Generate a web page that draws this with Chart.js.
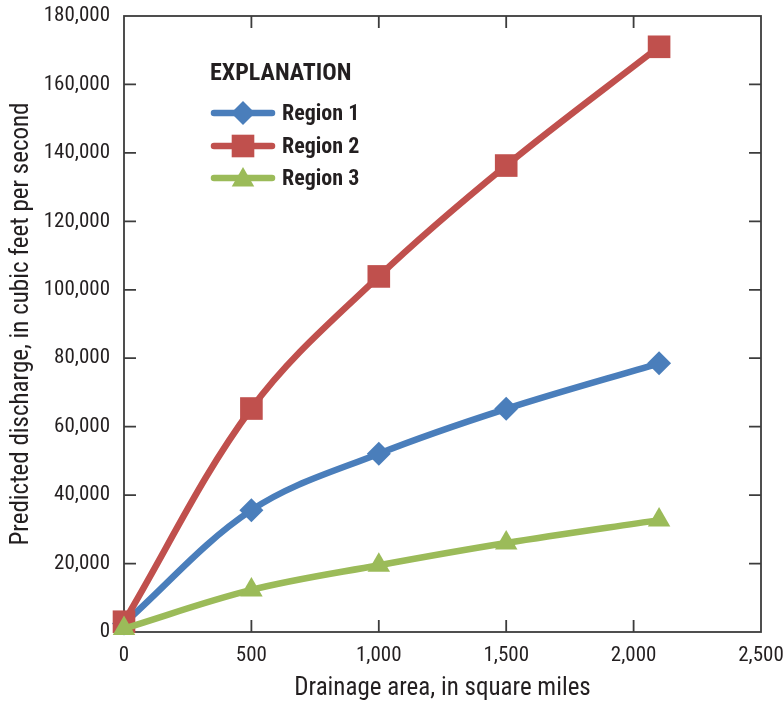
<!DOCTYPE html>
<html>
<head>
<meta charset="utf-8">
<script src="https://cdn.jsdelivr.net/npm/chart.js@4/dist/chart.umd.min.js"></script>
<style>
    html, body { margin: 0; padding: 0; background: #fff; }
    #wrap { width: 783px; height: 704px; }
</style>
</head>
<body>
<div id="wrap"><canvas id="chart" width="783" height="704"></canvas></div>
<script>
    const drainageArea = [0, 500, 1000, 1500, 2100];
    const region1 = [2500, 35600, 52100, 65200, 78500];
    const region2 = [3000, 65300, 103900, 136300, 171000];
    const region3 = [1000, 12300, 19500, 26000, 32700];
    const xTicks = [0, 500, 1000, 1500, 2000, 2500];
    const yTicks = [0, 20000, 40000, 60000, 80000, 100000, 120000, 140000, 160000, 180000];
    const seriesNames = ['Region 1', 'Region 2', 'Region 3'];

    const FONT = "'Liberation Sans Narrow', 'Roboto Condensed', 'DejaVu Sans Condensed', Arial, sans-serif";
    const AXIS_COLOR = '#3c3c3c';

    function toPoints(values) {
        return drainageArea.map((x, i) => ({ x: x, y: values[i] }));
    }

    function formatTick(value) {
        return Number(value).toLocaleString('en-US');
    }

    // frame plus inward tick marks on all four sides
    const framePlugin = {
        id: 'frame',
        beforeDatasetsDraw(chart) {
            const { ctx, chartArea, scales } = chart;
            const len = 12;
            ctx.save();
            ctx.strokeStyle = AXIS_COLOR;
            ctx.lineWidth = 1.8;
            ctx.strokeRect(chartArea.left, chartArea.top, chartArea.right - chartArea.left, chartArea.bottom - chartArea.top);
            ctx.beginPath();
            xTicks.slice(1, -1).forEach(v => {
                const px = scales.x.getPixelForValue(v);
                ctx.moveTo(px, chartArea.bottom);
                ctx.lineTo(px, chartArea.bottom - len);
                ctx.moveTo(px, chartArea.top);
                ctx.lineTo(px, chartArea.top + len);
            });
            yTicks.slice(1, -1).forEach(v => {
                const py = scales.y.getPixelForValue(v);
                ctx.moveTo(chartArea.left, py);
                ctx.lineTo(chartArea.left + len, py);
                ctx.moveTo(chartArea.right, py);
                ctx.lineTo(chartArea.right - len, py);
            });
            ctx.stroke();
            ctx.restore();
        }
    };

    // "EXPLANATION" box drawn inside the plot
    const explanationPlugin = {
        id: 'explanation',
        afterDraw(chart) {
            const { ctx } = chart;
            ctx.save();
            ctx.fillStyle = '#231f20';
            ctx.font = `bold 24px ${FONT}`;
            ctx.textBaseline = 'middle';
            ctx.textAlign = 'left';
            ctx.fillText('EXPLANATION', 210, 74);
            const rows = [113, 146, 178];
            chart.data.datasets.forEach((ds, i) => {
                const y = rows[i];
                ctx.strokeStyle = ds.borderColor;
                ctx.lineWidth = 6.5;
                ctx.lineCap = 'round';
                ctx.beginPath();
                ctx.moveTo(214, y);
                ctx.lineTo(272, y);
                ctx.stroke();
                ctx.fillStyle = ds.pointBackgroundColor;
                ctx.strokeStyle = ds.pointBorderColor;
                Chart.helpers.drawPoint(ctx, {
                    pointStyle: ds.pointStyle,
                    radius: ds.pointRadius,
                    borderWidth: 0,
                    rotation: 0
                }, 243, ds.pointStyle === 'triangle' ? y + 2 : y);
                ctx.fillStyle = '#231f20';
                ctx.font = `bold 22px ${FONT}`;
                ctx.fillText(seriesNames[i], 282, y + 1);
            });
            ctx.restore();
        }
    };

    function makeDataset(label, values, color, style, radius, order) {
        return {
            label: label,
            data: toPoints(values),
            order: order,
            borderColor: color,
            backgroundColor: color,
            pointBackgroundColor: color,
            pointBorderColor: color,
            pointBorderWidth: 0,
            pointStyle: style,
            pointRadius: radius,
            pointHoverRadius: radius,
            borderWidth: 6.5,
            tension: 0.35,
            fill: false,
            clip: false
        };
    }

    new Chart(document.getElementById('chart'), {
        type: 'line',
        data: {
            datasets: [
                makeDataset(seriesNames[0], region1, '#4a7ebb', 'rectRot', 12, 2),
                makeDataset(seriesNames[1], region2, '#c0504d', 'rect', 16, 1),
                makeDataset(seriesNames[2], region3, '#9bbb59', 'triangle', 13, 0)
            ]
        },
        options: {
            responsive: false,
            animation: false,
            layout: { padding: { top: 15, right: 22, left: 0, bottom: 0 } },
            plugins: {
                legend: { display: false },
                tooltip: { enabled: false }
            },
            scales: {
                x: {
                    type: 'linear',
                    min: 0,
                    max: 2500,
                    afterFit: scale => {
                        scale.height = 72;
                        scale.paddingLeft = 0;
                        scale.paddingRight = 0;
                    },
                    afterBuildTicks: scale => { scale.ticks = xTicks.map(v => ({ value: v })); },
                    grid: { display: false, drawTicks: false },
                    border: { display: false },
                    ticks: {
                        padding: 11,
                        color: '#231f20',
                        font: { family: FONT, size: 21 },
                        callback: formatTick,
                        maxRotation: 0
                    },
                    title: {
                        display: true,
                        text: 'Drainage area, in square miles',
                        color: '#231f20',
                        font: { family: FONT, size: 25 },
                        padding: { top: 0, bottom: 0 }
                    }
                },
                y: {
                    type: 'linear',
                    min: 0,
                    max: 180000,
                    afterFit: scale => {
                        scale.width = 124;
                        scale.paddingTop = 0;
                        scale.paddingBottom = 0;
                    },
                    afterBuildTicks: scale => { scale.ticks = yTicks.map(v => ({ value: v })); },
                    grid: { display: false, drawTicks: false },
                    border: { display: false },
                    ticks: {
                        padding: 14,
                        color: '#231f20',
                        font: { family: FONT, size: 21 },
                        callback: formatTick
                    },
                    title: {
                        display: true,
                        text: 'Predicted discharge, in cubic feet per second',
                        color: '#231f20',
                        font: { family: FONT, size: 25 },
                        padding: { top: 7, bottom: 0 }
                    }
                }
            }
        },
        plugins: [framePlugin, explanationPlugin]
    });
</script>
</body>
</html>
